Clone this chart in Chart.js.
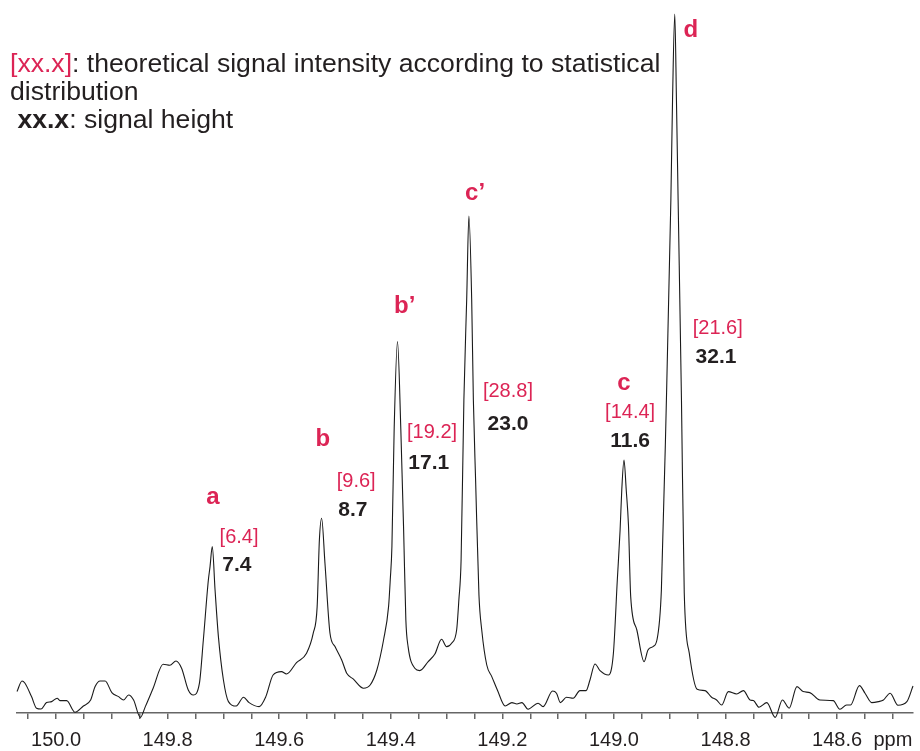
<!DOCTYPE html>
<html>
<head>
<meta charset="utf-8">
<script src="https://cdn.jsdelivr.net/npm/chart.js@4"></script>
<style>
  html, body { margin: 0; padding: 0; background: #fff; }
  #wrap { width: 920px; height: 751px; position: relative; }
</style>
</head>
<body>
<div id="wrap"><canvas id="spektrum"></canvas></div>
<script>
// chemical shift (ppm) and intensity (a.u.)
const shiftPpm = [
  150.070, 150.061, 150.056, 150.044, 150.035, 150.027, 150.017, 150.008, 149.998, 149.993,
  149.981, 149.966, 149.951, 149.938, 149.930, 149.921, 149.912, 149.900, 149.888, 149.879,
  149.870, 149.861, 149.849, 149.840, 149.826, 149.808, 149.796, 149.785, 149.775, 149.763,
  149.754, 149.743, 149.736, 149.727, 149.724, 149.720, 149.715, 149.709, 149.700, 149.691,
  149.677, 149.664, 149.654, 149.636, 149.624, 149.611, 149.596, 149.587, 149.569, 149.551,
  149.539, 149.532, 149.528, 149.524, 149.518, 149.509, 149.500, 149.488, 149.479, 149.467,
  149.449, 149.437, 149.425, 149.413, 149.404, 149.401, 149.398, 149.394, 149.388, 149.382,
  149.377, 149.373, 149.369, 149.357, 149.348, 149.333, 149.321, 149.309, 149.300, 149.291,
  149.282, 149.278, 149.274, 149.269, 149.264, 149.260, 149.255, 149.252, 149.248, 149.242,
  149.237, 149.228, 149.219, 149.209, 149.195, 149.183, 149.174, 149.165, 149.154, 149.136,
  149.127, 149.110, 149.103, 149.096, 149.085, 149.073, 149.061, 149.050, 149.043, 149.034,
  149.025, 149.010, 149.001, 148.994, 148.989, 148.986, 148.982, 148.978, 148.974, 148.970,
  148.959, 148.946, 148.939, 148.930, 148.923, 148.915, 148.906, 148.898, 148.895, 148.891,
  148.888, 148.885, 148.879, 148.874, 148.865, 148.851, 148.837, 148.825, 148.816, 148.807,
  148.795, 148.780, 148.768, 148.756, 148.750, 148.740, 148.726, 148.711, 148.698, 148.686,
  148.672, 148.661, 148.649, 148.631, 148.607, 148.595, 148.583, 148.576, 148.560, 148.550,
  148.538, 148.526, 148.517, 148.505, 148.491, 148.475, 148.464
];
const intensity = [
  1.07, 1.60, 1.50, 0.82, 0.24, 0.20, 0.52, 0.57, 0.74, 0.62,
  0.62, 0.04, 0.35, 0.65, 1.32, 1.60, 1.60, 1.02, 0.82, 0.65,
  0.90, 0.65, -0.22, 0.32, 1.24, 2.44, 2.39, 2.60, 2.24, 1.15,
  0.90, 1.49, 3.65, 6.65, 7.32, 8.32, 6.15, 3.82, 1.65, 0.57,
  0.35, 0.79, 0.52, 0.32, 0.82, 1.90, 2.07, 1.95, 2.52, 2.99,
  3.99, 5.32, 8.65, 9.74, 7.49, 3.99, 3.32, 2.65, 1.99, 1.69,
  1.24, 1.40, 2.15, 3.65, 5.32, 6.65, 8.32, 14.15, 18.57, 14.15,
  9.15, 4.65, 3.32, 2.24, 2.12, 2.57, 2.95, 3.69, 3.32, 3.49,
  4.15, 5.65, 7.65, 15.65, 20.65, 24.85, 20.65, 15.65, 11.65, 5.90,
  4.15, 2.40, 1.82, 1.15, 0.35, 0.52, 0.45, 0.52, 0.19, 0.49,
  0.32, 1.10, 0.99, 0.52, 0.79, 0.74, 1.12, 1.12, 1.65, 2.45,
  2.12, 1.90, 2.99, 6.65, 9.15, 11.15, 12.65, 11.15, 9.40, 5.82,
  4.15, 2.57, 3.15, 3.32, 3.65, 6.15, 15.65, 25.65, 30.65, 34.95,
  30.65, 25.65, 15.65, 6.00, 2.99, 1.19, 1.12, 0.79, 0.65, 0.40,
  1.07, 0.95, 1.12, 0.65, 0.62, 0.29, 0.52, -0.22, 0.65, 0.24,
  1.32, 1.07, 1.02, 0.65, 0.62, 0.19, 0.40, 0.40, 1.37, 0.99,
  0.52, 0.57, 0.65, 0.99, 0.39, 0.57, 1.35
];

// x axis ticks (every 0.05 ppm, labels every 0.2 ppm)
const tickValues = [
  148.5, 148.55, 148.6, 148.65, 148.7, 148.75, 148.8, 148.85, 148.9, 148.95,
  149.0, 149.05, 149.1, 149.15, 149.2, 149.25, 149.3, 149.35, 149.4, 149.45,
  149.5, 149.55, 149.6, 149.65, 149.7, 149.75, 149.8, 149.85, 149.9, 149.95,
  150.0, 150.05
];
const tickLabels = [
  'ppm', '', '148.6', '', '', '', '148.8', '', '', '',
  '149.0', '', '', '', '149.2', '', '', '', '149.4', '',
  '', '', '149.6', '', '', '', '149.8', '', '', '',
  '150.0', ''
];

// signal names and values
const peakNames = ['a', 'b', 'b\u2019', 'c\u2019', 'c', 'd'];
const theoreticalInt = ['[6.4]', '[9.6]', '[19.2]', '[28.8]', '[14.4]', '[21.6]'];
const signalHeight = ['7.4', '8.7', '17.1', '23.0', '11.6', '32.1'];

// where the labels sit (ppm, intensity of baseline)
const nameAt = [[149.719, 10.45], [149.522, 13.35], [149.375, 20.0], [149.249, 25.65], [148.982, 16.15], [148.862, 33.8]];
const theoAt = [[149.672, 8.5], [149.462, 11.3], [149.326, 13.75], [149.190, 15.8], [148.971, 14.75], [148.814, 18.95]];
const heightAt = [[149.676, 7.1], [149.468, 9.85], [149.332, 12.2], [149.190, 14.15], [148.971, 13.3], [148.817, 17.5]];

const RED = '#dc2455';
const INK = '#231f20';
const FONT = '"Liberation Sans", Arial, sans-serif';

const peakLabels = {
  id: 'peakLabels',
  afterDatasetsDraw(chart) {
    const { ctx, scales: { x, y } } = chart;
    ctx.save();
    ctx.textAlign = 'center';
    ctx.textBaseline = 'alphabetic';
    peakNames.forEach((n, i) => {
      ctx.fillStyle = RED;
      ctx.font = 'bold 24px ' + FONT;
      ctx.fillText(n, x.getPixelForValue(nameAt[i][0]), y.getPixelForValue(nameAt[i][1]));
      ctx.font = '20px ' + FONT;
      ctx.fillText(theoreticalInt[i], x.getPixelForValue(theoAt[i][0]), y.getPixelForValue(theoAt[i][1]));
      ctx.fillStyle = INK;
      ctx.font = 'bold 21px ' + FONT;
      ctx.fillText(signalHeight[i], x.getPixelForValue(heightAt[i][0]), y.getPixelForValue(heightAt[i][1]));
    });

    // legend text top left
    const runs = [
      [[RED, '', '[xx.x]'], [INK, '', ': theoretical signal intensity according to statistical']],
      [[INK, '', 'distribution']],
      [[INK, 'bold ', ' xx.x'], [INK, '', ': signal height']]
    ];
    ctx.textAlign = 'left';
    runs.forEach((line, li) => {
      let cx = 10;
      line.forEach(([col, w, txt]) => {
        ctx.font = w + '26.6px ' + FONT;
        ctx.fillStyle = col;
        ctx.fillText(txt, cx, 72 + li * 28);
        cx += ctx.measureText(txt).width;
      });
    });
    ctx.restore();
  }
};

new Chart(document.getElementById('spektrum'), {
  type: 'line',
  data: {
    datasets: [{
      data: shiftPpm.map((p, i) => ({ x: p, y: intensity[i] })),
      borderColor: '#1a1a1a',
      borderWidth: 1.1,
      pointRadius: 0,
      cubicInterpolationMode: 'monotone',
      fill: false,
      clip: false
    }]
  },
  options: {
    responsive: true,
    maintainAspectRatio: false,
    animation: false,
    layout: { padding: { left: 17, right: 7, top: 10, bottom: 1 } },
    plugins: { legend: { display: false }, tooltip: { enabled: false } },
    scales: {
      x: {
        type: 'linear',
        reverse: true,
        min: 148.464,
        max: 150.07,
        afterBuildTicks: axis => { axis.ticks = tickValues.map(v => ({ value: v })); },
        afterFit: axis => { axis.height = 37; },
        ticks: {
          autoSkip: false,
          maxRotation: 0,
          padding: 11,
          color: INK,
          font: { family: FONT, size: 20, lineHeight: 1 },
          callback: (v, i) => tickLabels[i]
        },
        grid: { drawOnChartArea: false, drawTicks: true, tickLength: 6, color: '#666', lineWidth: 1.5 },
        border: { display: true, color: '#666', width: 1.5 }
      },
      y: { display: false, min: 0, max: 35.15 }
    }
  },
  plugins: [peakLabels]
});
</script>
</body>
</html>
